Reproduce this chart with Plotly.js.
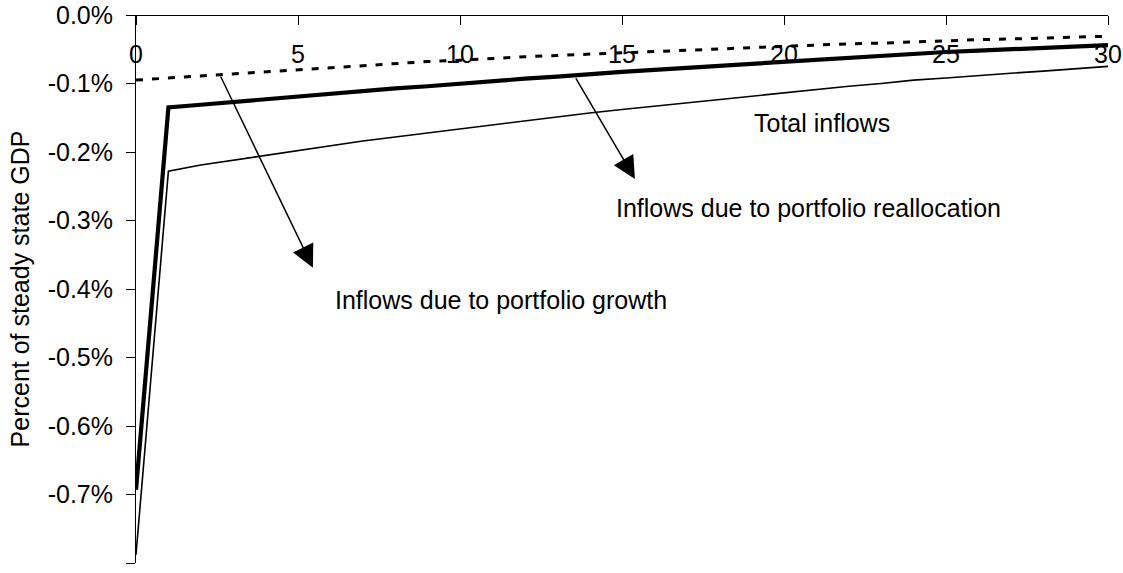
<!DOCTYPE html>
<html>
<head>
<meta charset="utf-8">
<script src="https://cdn.plot.ly/plotly-3.0.1.min.js"></script>
<style>html,body{margin:0;padding:0;background:#fff;}#chart{width:1123px;height:573px;}</style>
</head>
<body>
<div id="chart"></div>
<script>
const years = [0,1,2,3,4,5,6,7,8,9,10,11,12,13,14,15,16,17,18,19,20,21,22,23,24,25,26,27,28,29,30];
// Inflows due to portfolio reallocation (thick line), % of steady state GDP
const reallocation = [-0.693,-0.135,-0.131,-0.127,-0.122,-0.118,-0.114,-0.111,-0.107,-0.104,-0.100,-0.097,-0.093,-0.090,-0.086,-0.083,-0.080,-0.077,-0.074,-0.071,-0.068,-0.065,-0.062,-0.059,-0.056,-0.054,-0.052,-0.050,-0.048,-0.046,-0.044];
// Inflows due to portfolio growth (dotted line)
const growth = [-0.095,-0.092,-0.088,-0.085,-0.082,-0.079,-0.076,-0.073,-0.071,-0.068,-0.066,-0.063,-0.061,-0.059,-0.057,-0.055,-0.053,-0.051,-0.049,-0.047,-0.045,-0.044,-0.042,-0.041,-0.039,-0.038,-0.036,-0.035,-0.034,-0.032,-0.031];
// Total inflows (thin line)
const total = [-0.788,-0.228,-0.219,-0.212,-0.204,-0.197,-0.190,-0.184,-0.178,-0.172,-0.166,-0.160,-0.154,-0.149,-0.143,-0.138,-0.133,-0.128,-0.123,-0.118,-0.113,-0.109,-0.104,-0.100,-0.095,-0.092,-0.088,-0.085,-0.082,-0.078,-0.075];
const yTickVals = [0,-0.1,-0.2,-0.3,-0.4,-0.5,-0.6,-0.7,-0.8];
const yTickText = ['0.0%','-0.1%','-0.2%','-0.3%','-0.4%','-0.5%','-0.6%','-0.7%','-0.8%'];
const xTickVals = [0,5,10,15,20,25,30];
const labels = {
  growth: 'Inflows due to portfolio growth',
  reallocation: 'Inflows due to portfolio reallocation',
  total: 'Total inflows',
  yTitle: 'Percent of steady state GDP'
};

const FONT = 'Arial, "Liberation Sans", sans-serif';
const traces = [
  {x: years, y: growth, mode: 'lines', line: {color: '#000', width: 3, dash: '7px,9px'}, name: labels.growth},
  {x: years, y: total, mode: 'lines', line: {color: '#000', width: 1.6}, name: labels.total},
  {x: years, y: reallocation, mode: 'lines', line: {color: '#000', width: 4.2}, name: labels.reallocation}
];

const txt = {size: 25, color: '#000', family: FONT};
const layout = {
  width: 1123, height: 573,
  margin: {l: 136, r: 15, t: 15, b: 10},
  paper_bgcolor: '#fff', plot_bgcolor: '#fff',
  showlegend: false,
  font: {family: FONT, color: '#000'},
  xaxis: {
    range: [0, 30], anchor: 'free', position: 1, side: 'bottom',
    tickvals: xTickVals, ticks: 'outside', ticklen: 9, tickcolor: '#000', tickwidth: 1,
    showline: true, linecolor: '#000', linewidth: 1,
    showgrid: false, zeroline: false, ticklabelstandoff: 8,
    tickfont: {size: 25, color: '#000', family: FONT}
  },
  yaxis: {
    range: [-0.8, 0], tickvals: yTickVals, ticktext: yTickText,
    ticks: 'outside', ticklen: 9, tickcolor: '#000', tickwidth: 1,
    showline: true, linecolor: '#000', linewidth: 1,
    showgrid: false, zeroline: false, ticklabelstandoff: 8,
    tickfont: {size: 25, color: '#000', family: FONT},
    title: {text: labels.yTitle, font: {size: 25, color: '#000', family: FONT}, standoff: 10}
  },
  annotations: [
    {xref: 'x', yref: 'y', axref: 'x', ayref: 'y', x: 5.46, y: -0.369, ax: 2.59, ay: -0.0876,
     text: '', showarrow: true, arrowhead: 2, arrowsize: 3, arrowwidth: 1.5, arrowcolor: '#000'},
    {xref: 'x', yref: 'y', axref: 'x', ayref: 'y', x: 15.40, y: -0.2394, ax: 13.55, ay: -0.0905,
     text: '', showarrow: true, arrowhead: 2, arrowsize: 3, arrowwidth: 1.5, arrowcolor: '#000'},
    {xref: 'x', yref: 'y', x: 11.25, y: -0.416, text: labels.growth, showarrow: false, font: txt},
    {xref: 'x', yref: 'y', x: 20.76, y: -0.2818, text: labels.reallocation, showarrow: false, font: txt},
    {xref: 'x', yref: 'y', x: 21.17, y: -0.1577, text: labels.total, showarrow: false, font: txt}
  ]
};
Plotly.newPlot('chart', traces, layout, {displayModeBar: false, staticPlot: true});
</script>
</body>
</html>
